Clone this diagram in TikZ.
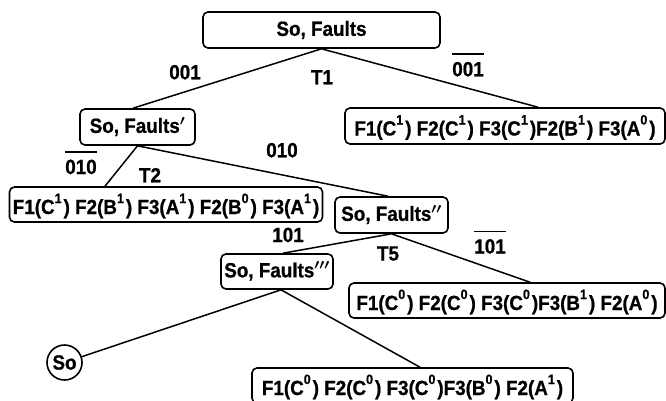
\documentclass[tikz,border=0pt]{standalone}
\usepackage{fontspec}
\setmainfont{Liberation Sans}[FakeStretch=0.92, BoldFeatures={FakeBold=0.8}]
\newcommand\fz{\fontsize{20.5}{24}\selectfont\bfseries}
\newcommand\supx[1]{\raisebox{11pt}{\fontsize{13.5}{14}\selectfont #1}\kern2pt}
\newlength\ovlw
\newcommand\ovl[1]{\settowidth\ovlw{#1}\rlap{\rule[21.5pt]{\ovlw}{1.5pt}}#1}
\newcommand\pr[1]{{\boldmath$#1$}}
\begin{document}
\begin{tikzpicture}[x=1pt,y=-1pt,
  box/.style={draw, line width=1.6pt, rounded corners=5pt, inner sep=0pt, font=\fz},
  fbox/.style={box, text height=14.7pt, text depth=3pt},
  sbox/.style={box, text height=19pt, text depth=0pt},
  lab/.style={inner sep=0pt, anchor=base, font=\fz},
  edge/.style={line width=1.5pt}]
\useasboundingbox (0,0) rectangle (666,400);
\clip (0,0) rectangle (666,400);

\node[fbox, minimum width=237pt, minimum height=36pt] (root) at (321.5,30) {So, Faults};
\node[sbox, minimum width=320pt, minimum height=36pt] (r1) at (505,126)
  {F1(C\supx{1}) F2(C\supx{1}) F3(C\supx{1})F2(B\supx{1}) F3(A\supx{0})};
\node[fbox, minimum width=115pt, minimum height=36pt] (f1) at (137.5,127) {So, Faults\pr{'}};
\node[sbox, minimum width=313pt, minimum height=35pt] (lb) at (166,204.5)
  {F1(C\supx{1}) F2(B\supx{1}) F3(A\supx{1}) F2(B\supx{0}) F3(A\supx{1})};
\node[fbox, minimum width=113pt, minimum height=36pt] (f2) at (391.5,215) {So, Faults\pr{''}};
\node[fbox, minimum width=112pt, minimum height=35pt] (f3) at (277,271.5) {So, Faults\pr{'''}};
\node[sbox, minimum width=316pt, minimum height=35pt] (r2) at (507,300.5)
  {F1(C\supx{0}) F2(C\supx{0}) F3(C\supx{0})F3(B\supx{1}) F2(A\supx{0})};
\node[sbox, minimum width=321pt, minimum height=35pt] (bt) at (412.5,385.5)
  {F1(C\supx{0}) F2(C\supx{0}) F3(C\supx{0})F3(B\supx{0}) F2(A\supx{1})};
\node[draw, circle, line width=1.6pt, inner sep=0pt, minimum size=35pt, font=\fz] (so) at (64.5,362.5) {So};

\draw[edge] (root.south) -- ([xshift=-4.5pt]f1.north);
\draw[edge] (root.south) -- ([xshift=33pt]r1.north);
\draw[edge] (f1.south) -- ([xshift=-61pt]lb.north);
\draw[edge] (f1.south) -- ([xshift=-3.5pt]f2.north);
\draw[edge] (f2.south) -- ([xshift=6pt]f3.north);
\draw[edge] (f2.south) -- ([xshift=23pt]r2.north);
\draw[edge] ([xshift=4pt]f3.south) -- (so);
\draw[edge] ([xshift=4pt]f3.south) -- ([xshift=7.5pt]bt.north);

\node[lab] (l1) at (185,79.3) {001};
\node[lab] (l2) at (322,84.3) {T1};
\node[lab] (l3) at (468,76.3) {\ovl{001}};
\node[lab] (l4) at (81,174) {\ovl{010}};
\node[lab] (l5) at (150,182.3) {T2};
\node[lab] (l6) at (282,157.3) {010};
\node[lab] (l7) at (288,242) {101};
\node[lab] (l8) at (388,260.5) {T5};
\node[lab] (l9) at (490,253.5) {\ovl{101}};
\end{tikzpicture}
\end{document}
